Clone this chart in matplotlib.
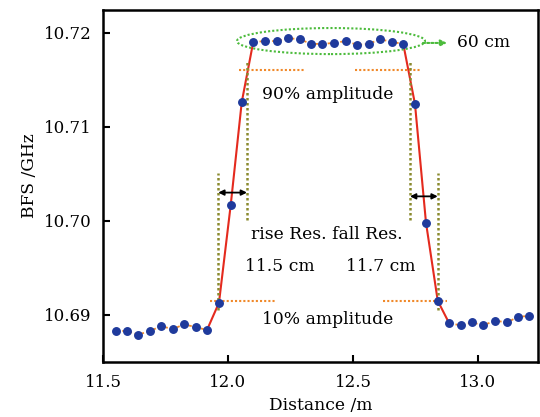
import numpy as np
import matplotlib.pyplot as plt
from matplotlib.patches import Ellipse

plt.rcParams['font.family'] = ['DejaVu Serif']
plt.rcParams['mathtext.fontset'] = 'dejavuserif'

# measured BFS along the fibre
distance = [11.552, 11.596, 11.640, 11.688, 11.732, 11.780, 11.824, 11.872, 11.916,
            11.964, 12.011, 12.055,
            12.101, 12.149, 12.195, 12.241, 12.287, 12.332, 12.377, 12.424, 12.471,
            12.517, 12.563, 12.609, 12.656, 12.701,
            12.748, 12.792, 12.839,
            12.885, 12.932, 12.977, 13.021, 13.069, 13.115, 13.161, 13.205]
bfs = [10.6883, 10.6883, 10.6879, 10.6883, 10.6888, 10.6885, 10.6890, 10.6887, 10.6884,
       10.6913, 10.7017, 10.7126,
       10.7190, 10.7191, 10.7191, 10.7194, 10.7193, 10.7188, 10.7188, 10.7189, 10.7191,
       10.7187, 10.7188, 10.7193, 10.7190, 10.7188,
       10.7124, 10.6998, 10.6915,
       10.6891, 10.6889, 10.6892, 10.6889, 10.6894, 10.6892, 10.6898, 10.6899]

rise_idx = (8, 12)
fall_idx = (25, 29)

xticks = [11.5, 12.0, 12.5, 13.0]
yticks = [10.69, 10.70, 10.71, 10.72]

x = np.array(distance)
y = np.array(bfs)

fig = plt.figure(figsize=(5.4, 4.17), dpi=100)
ax = fig.add_axes([0.1907, 0.1319, 0.8056, 0.8441])

orange = '#f0892a'
red = '#e42a1e'
blue = '#1f3a9c'
green = '#4cbb3c'
olive = '#8a8a2e'

# orange dotted segments for flat parts
for a, b in [(0, rise_idx[0]), (rise_idx[1], fall_idx[0]), (fall_idx[1], len(x) - 1)]:
    ax.plot(x[a:b + 1], y[a:b + 1], color=orange, lw=1.3, ls=(0, (2, 1.5)), zorder=2)
# red transitions
for a, b in [rise_idx, fall_idx]:
    ax.plot(x[a:b + 1], y[a:b + 1], color=red, lw=1.5, zorder=2)

ax.plot(x, y, 'o', color=blue, ms=5.4, zorder=4)

# 90% / 10% guides
for x0, x1, yy in [(12.044, 12.304, 10.716), (12.508, 12.768, 10.716),
                   (11.928, 12.188, 10.6915), (12.62, 12.876, 10.6915)]:
    ax.plot([x0, x1], [yy, yy], color=orange, lw=1.5, ls=(0, (1, 1)), zorder=3)

# resolution verticals
for xx, y0, y1 in [(11.961, 10.6905, 10.7051), (12.076, 10.7001, 10.7169),
                   (12.728, 10.7001, 10.7171), (12.839, 10.6905, 10.7051)]:
    ax.plot([xx, xx], [y0, y1], color=olive, lw=1.8, ls=(0, (1, 1)), zorder=3)

for x0, x1, yy in [(11.961, 12.076, 10.703), (12.728, 12.839, 10.7026)]:
    ax.annotate('', xy=(x0, yy), xytext=(x1, yy),
                arrowprops=dict(arrowstyle='<|-|>', color='black', lw=1.3,
                                mutation_scale=8, shrinkA=0, shrinkB=0))

ax.add_patch(Ellipse((12.412, 10.7191), 0.752, 0.00277, fill=False,
                     ec=green, lw=1.5, ls=(0, (1, 1)), zorder=3))
ax.annotate('', xy=(12.876, 10.7189), xytext=(12.78, 10.7189),
            arrowprops=dict(arrowstyle='-|>', color=green, lw=1.5, ls=(0, (1, 1)),
                            mutation_scale=9, shrinkA=0, shrinkB=0))

fs = 12.3
ax.text(12.916, 10.7189, '60 cm', fontsize=fs, va='center', ha='left')
ax.text(12.40, 10.7134, '90% amplitude', fontsize=fs, va='center', ha='center')
ax.text(12.396, 10.6985, 'rise Res. fall Res.', fontsize=fs, va='center', ha='center')
ax.text(12.208, 10.6951, '11.5 cm', fontsize=fs, va='center', ha='center')
ax.text(12.612, 10.6951, '11.7 cm', fontsize=fs, va='center', ha='center')
ax.text(12.40, 10.6895, '10% amplitude', fontsize=fs, va='center', ha='center')

ax.set_xlim(11.5, 13.24)
ax.set_ylim(10.685, 10.7224)
ax.set_xticks(xticks)
ax.set_xticklabels(['%.1f' % t for t in xticks])
ax.set_yticks(yticks)
ax.set_yticklabels(['%.2f' % t for t in yticks])
ax.tick_params(direction='in', length=5, width=1.5, labelsize=12)
ax.tick_params(axis='y', pad=8)
ax.tick_params(axis='x', pad=9)
for s in ax.spines.values():
    s.set_linewidth(1.8)

ax.set_xlabel('Distance /m', fontsize=12.3)
ax.set_ylabel('BFS /GHz', fontsize=12.3)
ax.xaxis.set_label_coords(0.5, -0.1)
ax.yaxis.set_label_coords(-0.15, 0.53)

fig.savefig('out.png', dpi=100)
